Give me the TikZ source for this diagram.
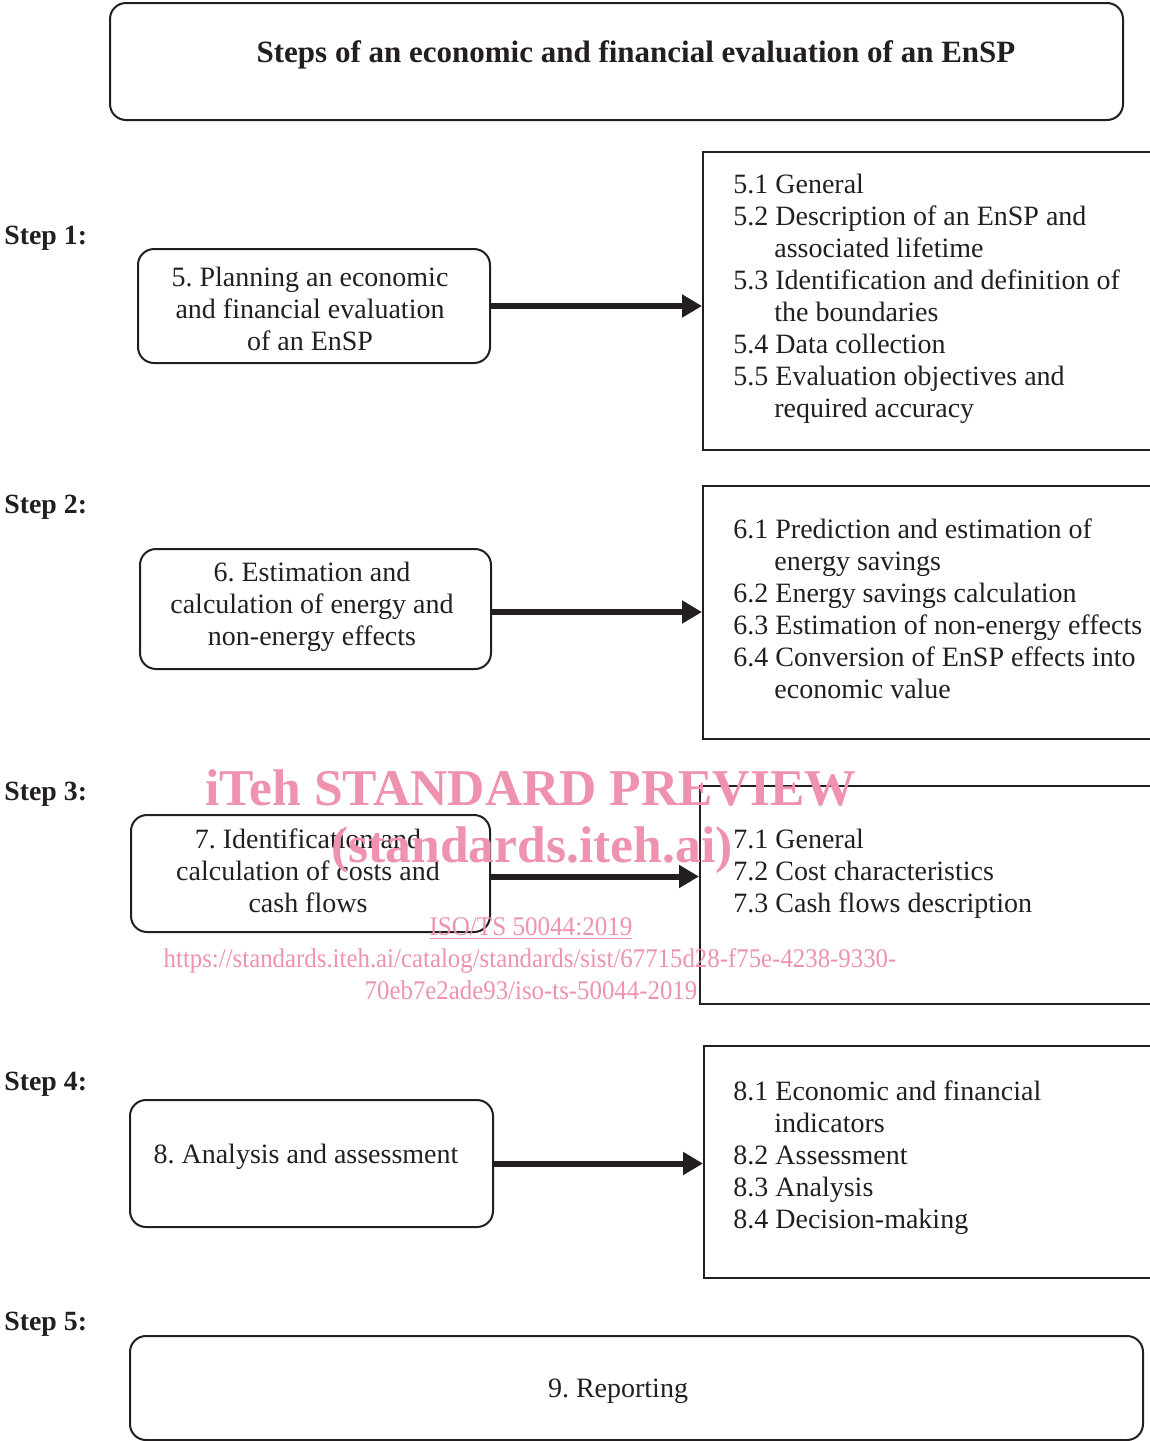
\documentclass[tikz,border=0pt]{standalone}
\usepackage{fontspec}
\setmainfont{Liberation Serif}
\usetikzlibrary{arrows.meta}
\definecolor{ink}{HTML}{231F20}
\definecolor{wm}{HTML}{EE92AE}
\tikzset{
  px/.style={x=0.5pt,y=-0.5pt},
  rbox/.style={draw=ink,line width=1pt,rounded corners=8pt,inner sep=0pt},
  sbox/.style={draw=ink,line width=0.8pt,inner sep=0pt},
  body/.style={font=\fontsize{14}{16}\selectfont,text=ink,inner sep=0pt},
  steplbl/.style={font=\bfseries\fontsize{13.9}{16}\selectfont,text=ink,anchor=base west,inner sep=0pt},
  bigarrow/.style={draw=ink,line width=3pt,-{Triangle[length=10pt,width=11pt]}},
  wmk/.style={text=wm,inner sep=0pt}
}
\newcommand{\ind}{\hspace*{20.5pt}}
\frenchspacing
\begin{document}
\begin{tikzpicture}[px]
\useasboundingbox (0,0) rectangle (1150,1441);
% title
\node[rbox,minimum width=506.5pt,minimum height=58.5pt] (title) at (616.5,61.5) {};
\node[font=\bfseries\fontsize{15.5}{18}\selectfont,text=ink,anchor=base] (ttext) at (636,62) {Steps of an economic and financial evaluation of an EnSP};
% step labels
\node[steplbl] (s1) at (4,244) {Step 1:};
\node[steplbl] (s2) at (4,513) {Step 2:};
\node[steplbl] (s3) at (4,800) {Step 3:};
\node[steplbl] (s4) at (4,1090) {Step 4:};
\node[steplbl] (s5) at (4,1330) {Step 5:};
% left boxes
\node[rbox,minimum width=176pt,minimum height=57pt] (b5) at (314,306) {};
\node[body,align=center,anchor=base] (t5) at (310,350)
  {5. Planning an economic\\ and financial evaluation\\ of an EnSP};
\node[rbox,minimum width=175.5pt,minimum height=60pt] (b6) at (315.5,609) {};
\node[body,align=center,anchor=base] (t6) at (312,645)
  {6. Estimation and\\calculation of energy and\\non-energy effects};
\node[rbox,minimum width=179.5pt,minimum height=58.5pt] (b7) at (310.5,873.5) {};
\node[body,align=center,anchor=base] (t7) at (308,912)
  {7. Identification and\\calculation of costs and\\cash flows};
\node[rbox,minimum width=181.5pt,minimum height=63.5pt] (b8) at (311.5,1163.5) {};
\node[body,anchor=base] (t8) at (306,1163) {8. Analysis and assessment};
\node[rbox,minimum width=506.5pt,minimum height=52pt] (b9) at (636.5,1388) {};
\node[body,anchor=base] (t9) at (618,1397) {9. Reporting};
% right boxes
\node[sbox,minimum width=226pt,minimum height=149pt,anchor=north west] (r1) at (702,151) {};
\node[sbox,minimum width=226pt,minimum height=126.5pt,anchor=north west] (r2) at (702,485) {};
\node[sbox,minimum width=227.5pt,minimum height=109pt,anchor=north west] (r3) at (699,785) {};
\node[sbox,minimum width=225.5pt,minimum height=116pt,anchor=north west] (r4) at (703,1045) {};
\node[body,align=left,anchor=base west] (t1) at (733,417)
  {5.1 General\\5.2 Description of an EnSP and\\\ind associated lifetime\\5.3 Identification and definition of\\\ind the boundaries\\5.4 Data collection\\5.5 Evaluation objectives and\\\ind required accuracy};
\node[body,align=left,anchor=base west] (t2) at (733,698)
  {6.1 Prediction and estimation of\\\ind energy savings\\6.2 Energy savings calculation\\6.3 Estimation of non-energy effects\\6.4 Conversion of EnSP effects into\\\ind economic value};
\node[body,align=left,anchor=base west] (t3) at (733,912)
  {7.1 General\\7.2 Cost characteristics\\7.3 Cash flows description};
\node[body,align=left,anchor=base west] (t4) at (733,1228)
  {8.1 Economic and financial\\\ind indicators\\8.2 Assessment\\8.3 Analysis\\8.4 Decision-making};
% arrows
\draw[bigarrow] (b5.east) -- (b5.east -| r1.west);
\draw[bigarrow] ([yshift=-1.5pt]b6.east) -- ([yshift=-1.5pt]b6.east -| r2.west);
\draw[bigarrow] ([yshift=-1.5pt]b7.east) -- ([yshift=-1.5pt]b7.east -| r3.west);
\draw[bigarrow] (b8.east) -- (b8.east -| r4.west);
% watermark
\node[wmk,font=\bfseries\fontsize{25.8}{28}\selectfont,anchor=base] (w1) at (531,805) {iTeh STANDARD PREVIEW};
\node[wmk,font=\bfseries\fontsize{25.8}{28}\selectfont,anchor=base] (w2) at (532,862) {(standards.iteh.ai)};
\node[wmk,font=\fontsize{13.5}{15}\selectfont,xscale=0.93,transform shape,anchor=base] (w3) at (531,935) {\underline{ISO/TS 50044:2019}};
\node[wmk,font=\fontsize{13.5}{15}\selectfont,xscale=0.92,transform shape,anchor=base] (w4) at (530,967) {https://standards.iteh.ai/catalog/standards/sist/67715d28-f75e-4238-9330-};
\node[wmk,font=\fontsize{13.5}{15}\selectfont,xscale=0.92,transform shape,anchor=base] (w5) at (531,999) {70eb7e2ade93/iso-ts-50044-2019};
\end{tikzpicture}
\end{document}
